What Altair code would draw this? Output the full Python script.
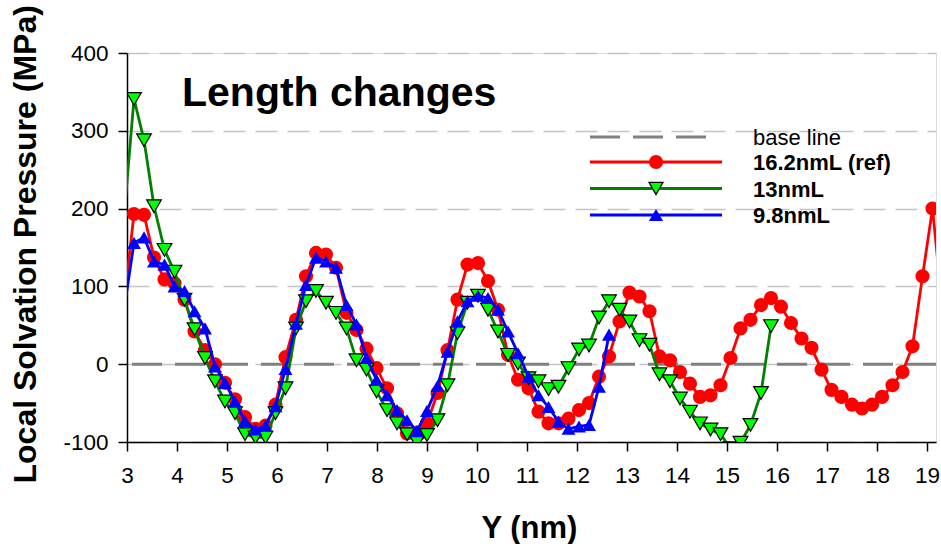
import altair as alt
import pandas as pd

# Sampling positions along Y (nm); first and last fall outside the axis range
y_nm = [2.94, 3.14, 3.34, 3.54, 3.75, 3.95, 4.15, 4.35, 4.56, 4.76, 4.96,
        5.16, 5.36, 5.57, 5.77, 5.97, 6.17, 6.38, 6.58, 6.78, 6.98,
        7.18, 7.39, 7.59, 7.79, 7.99, 8.20, 8.40, 8.60, 8.80, 9.00,
        9.21, 9.41, 9.61, 9.81, 10.02, 10.22, 10.42, 10.62, 10.82,
        11.03, 11.23, 11.43, 11.63, 11.83, 12.04, 12.24, 12.44, 12.64, 12.85,
        13.05, 13.25, 13.45, 13.65, 13.86, 14.06, 14.26, 14.46, 14.67, 14.87,
        15.07, 15.27, 15.47, 15.68, 15.88, 16.08, 16.28, 16.49, 16.69, 16.89,
        17.09, 17.29, 17.50, 17.70, 17.90, 18.10, 18.31, 18.51, 18.71, 18.91,
        19.11, 19.32]

# Local solvation pressure (MPa) for each box length
p_ref = [79, 193, 192, 137, 109, 104, 83, 42, 18, 0, -24,
         -45, -68, -83, -79, -52, 9, 57, 113, 143, 141,
         124, 66, 44, 20, -5, -31, -63, -89, -88, -76,
         -37, 18, 83, 128, 130, 107, 70, 12, -20,
         -31, -61, -76, -76, -70, -59, -50, -16, 10, 55,
         92, 87, 68, 10, 5, -10, -25, -42, -40, -27,
         8, 46, 57, 76, 85, 74, 53, 33, 21, -7,
         -33, -42, -52, -57, -52, -42, -27, -10, 23, 113,
         200, 65]
p_13 = [189, 341, 288, 203, 147, 119, 83, 45, 8, -22, -48,
        -63, -90, -94, -94, -63, -31, 46, 81, 94, 79,
        66, 46, 5, -7, -35, -59, -76, -90, -100, -91,
        -72, -27, 40, 79, 88, 70, 42, 12, 1,
        -18, -22, -32, -29, -5, 19, 24, 60, 81, 70,
        55, 31, 25, -13, -22, -44, -61, -76, -84, -90,
        -108, -101, -78, -37, 49]
p_98 = [70, 156, 163, 132, 128, 100, 94, 68, 46, -3, -24,
        -48, -73, -84, -79, -54, -6, 52, 102, 137, 132,
        124, 76, 51, 8, -20, -40, -59, -72, -86, -60,
        -28, 16, 55, 81, 88, 85, 70, 42, 14,
        -16, -40, -55, -74, -83, -80, -78, -29, 38]

y_ticks = [-100, 0, 100, 200, 300, 400]
x_ticks = list(range(3, 20))
X_MIN, X_MAX = 3, 19.18

FONT = "Liberation Sans"
PLOT_W, PLOT_H = 809, 389

series = [
    # label, values, line colour, marker shape, fill, outline, marker size
    ("16.2nmL (ref)", p_ref, "#ff0000", "circle", "#ff0000", None, 200),
    ("13nmL", p_13, "#008000", "triangle-down", "#00ff00", "#000000", 215),
    ("9.8nmL", p_98, "#0000ff", "triangle-up", "#0000ff", None, 195),
]

x_axis = alt.Axis(values=x_ticks, title="Y (nm)", grid=False,
                  labelFontSize=22.5, labelColor="black", labelPadding=13,
                  labelFlush=False, labelExpr="'' + datum.value",
                  tickSize=9, tickWidth=1.5, tickColor="black",
                  domainColor="black", domainWidth=1.5,
                  titleFontSize=31, titleFontWeight="bold", titleColor="black",
                  titleX=402, titleY=95, titleBaseline="alphabetic",
                  titleAlign="center")
y_axis = alt.Axis(values=y_ticks, title="Local Solvation Pressure (MPa)",
                  grid=True, gridDash=[22, 10], gridColor="#c4c4c4",
                  gridWidth=1.5, labelFontSize=22.5, labelColor="black",
                  labelPadding=10, labelFlush=False,
                  labelExpr="'' + datum.value",
                  tickSize=9, tickWidth=1.5, tickColor="black",
                  domainColor="black", domainWidth=1.5,
                  titleFontSize=32, titleFontWeight="bold", titleColor="black",
                  titleX=-92, titleY=430, titleAngle=270,
                  titleAlign="left", titleBaseline="alphabetic")

x_enc = alt.X("y_nm:Q", scale=alt.Scale(domain=[X_MIN, X_MAX], nice=False, zero=False),
              axis=x_axis)
y_enc = alt.Y("p:Q", scale=alt.Scale(domain=[-100, 400], nice=False, zero=False),
              axis=y_axis)

# zero-pressure reference line
baseline = alt.Chart(pd.DataFrame({"p": [0]})).mark_rule(
    color="#808080", strokeWidth=3, strokeDash=[30, 13]
).encode(y=y_enc)

layers = [baseline]
for label, vals, col, shape, fill, outline, size in series:
    d = pd.DataFrame({"y_nm": y_nm[:len(vals)], "p": vals})
    layers.append(alt.Chart(d).mark_line(color=col, strokeWidth=2.8, clip=True)
                  .encode(x=x_enc, y=y_enc))
    # symbols only for samples that lie inside the axis range
    d_in = d[(d["y_nm"] >= X_MIN) & (d["y_nm"] <= X_MAX)]
    pt_kw = dict(shape=shape, filled=True, fill=fill, fillOpacity=1, opacity=1,
                 size=size, clip=True)
    if outline:
        pt_kw.update(stroke=outline, strokeWidth=1.2)
    else:
        pt_kw.update(strokeWidth=0)
    layers.append(alt.Chart(d_in).mark_point(**pt_kw).encode(x=x_enc, y=y_enc))

one = pd.DataFrame({"k": [0]})

# chart heading inside the plot area
heading = alt.Chart(one).mark_text(
    text="Length changes", font=FONT, fontSize=41, fontWeight="bold",
    align="left", baseline="alphabetic", color="black"
).encode(x=alt.value(55), y=alt.value(53))
layers.append(heading)

# hand-built legend
leg_rows = [
    ("base line", "#808080", None, None, None, "normal", 84, [30, 13], 3, 580),
    ("16.2nmL (ref)", "#ff0000", "circle", "#ff0000", None, "bold", 109, None, 2.8, 595),
    ("13nmL", "#008000", "triangle-down", "#00ff00", "#000000", "bold", 135.5, None, 2.8, 595),
    ("9.8nmL", "#0000ff", "triangle-up", "#0000ff", None, "bold", 162, None, 2.8, 595),
]
for text, col, shape, fill, outline, weight, ypos, dash, sw, xend in leg_rows:
    rule_kw = dict(color=col, strokeWidth=sw)
    if dash:
        rule_kw["strokeDash"] = dash
    layers.append(alt.Chart(one).mark_rule(**rule_kw).encode(
        x=alt.value(463), x2=alt.value(xend), y=alt.value(ypos)))
    if shape:
        kw = dict(shape=shape, filled=True, fill=fill, fillOpacity=1, opacity=1,
                  size=200)
        if outline:
            kw.update(stroke=outline, strokeWidth=1.2)
        else:
            kw.update(strokeWidth=0)
        layers.append(alt.Chart(one).mark_point(**kw).encode(
            x=alt.value(529), y=alt.value(ypos)))
    layers.append(alt.Chart(one).mark_text(
        text=text, font=FONT, fontSize=22, fontWeight=weight,
        align="left", baseline="alphabetic", color="black"
    ).encode(x=alt.value(626), y=alt.value(ypos + 8)))

chart = alt.layer(*layers).properties(
    width=PLOT_W, height=PLOT_H,
    autosize=alt.AutoSizeParams(type="none"),
    padding={"left": 127, "top": 53, "right": 5, "bottom": 102},
    background="white",
).configure_view(
    stroke="black", strokeWidth=1.5
).configure(
    font=FONT
)

chart.save("out.html", embed_options={"renderer": "svg", "actions": False})
